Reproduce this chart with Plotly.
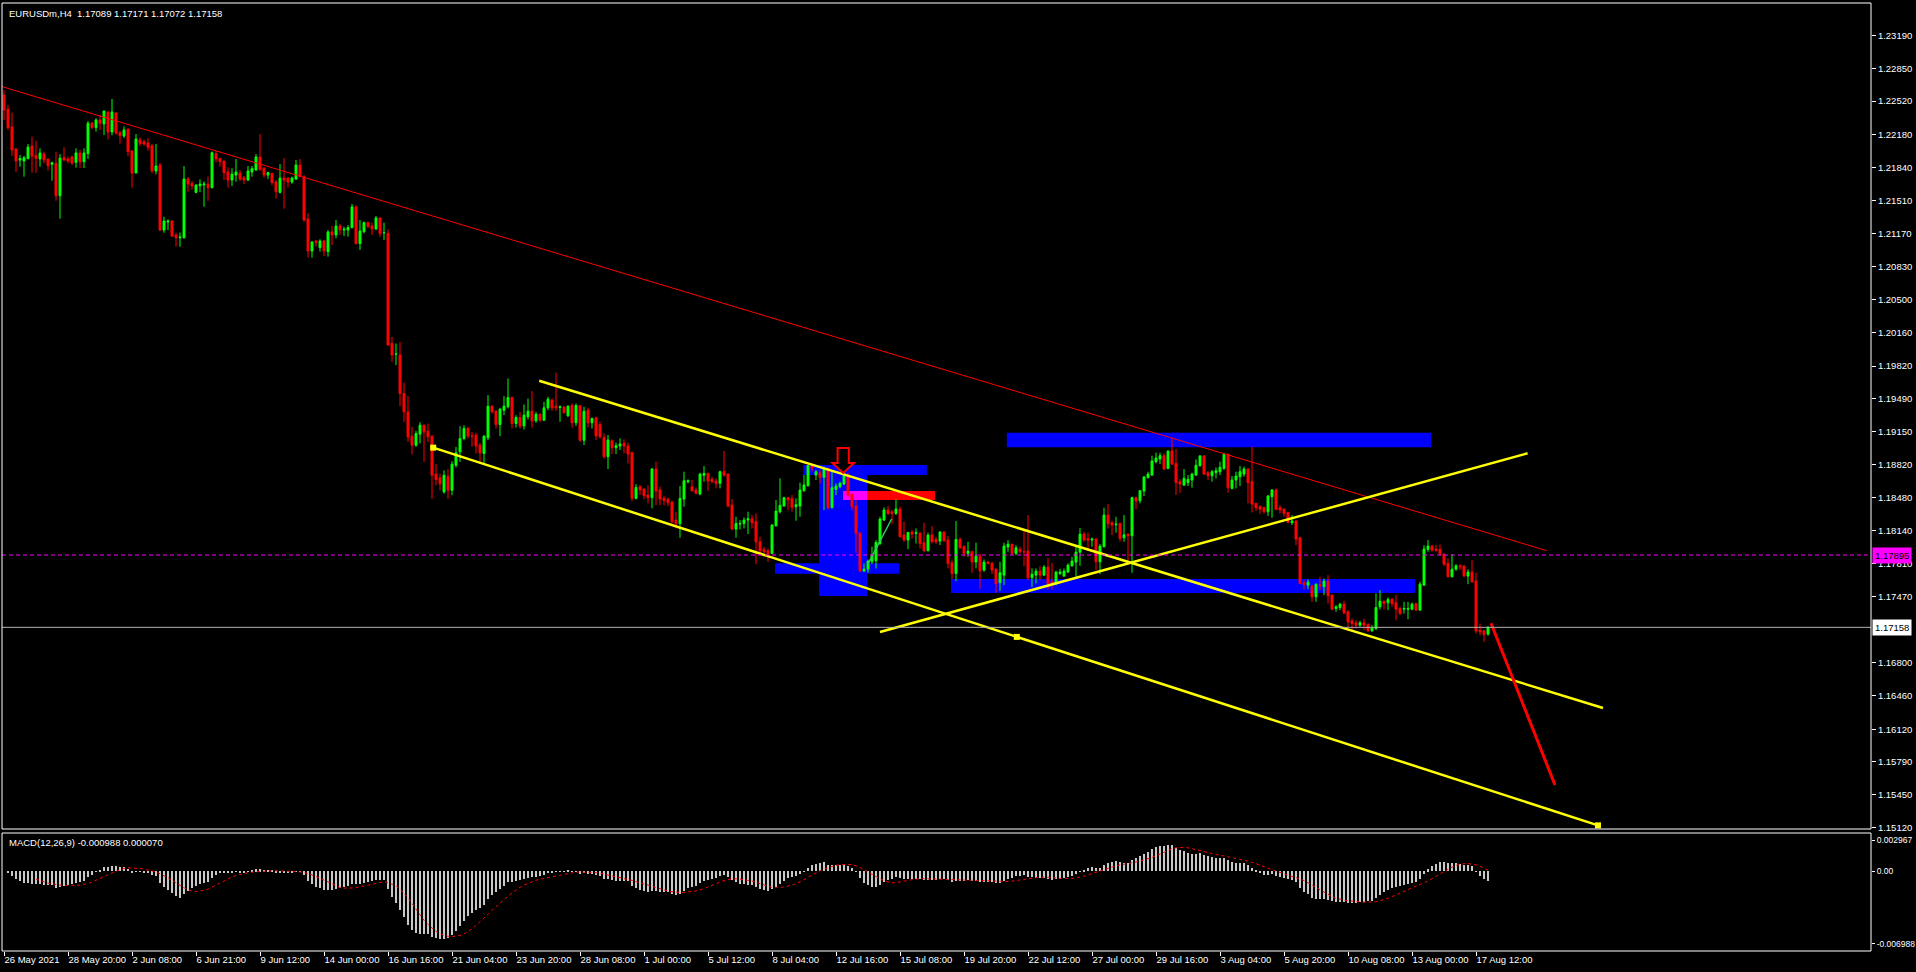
import plotly.graph_objects as go
import pandas as pd

# ---------------- price data (EURUSDm, H4) ----------------
opens = [
1.22583, 1.22437, 1.22257, 1.22032, 1.21920, 1.21910, 1.21934, 1.22063, 1.21968, 1.21930, 1.21981, 1.21930,
1.21876, 1.21886, 1.21556, 1.21944, 1.21930, 1.21951, 1.21896, 1.21992, 1.21903, 1.21985, 1.22297, 1.22250,
1.22328, 1.22287, 1.22410, 1.22206, 1.22399, 1.22199, 1.22165, 1.22236, 1.22012, 1.21787, 1.22124, 1.22107,
1.22093, 1.22066, 1.21808, 1.21869, 1.21206, 1.21288, 1.21298, 1.21155, 1.21128, 1.21128, 1.21726, 1.21682,
1.21590, 1.21658, 1.21665, 1.21675, 1.21638, 1.21985, 1.21937, 1.21910, 1.21798, 1.21716, 1.21767, 1.21787,
1.21740, 1.21716, 1.21798, 1.21818, 1.21951, 1.21838, 1.21767, 1.21784, 1.21696, 1.21590, 1.21736, 1.21736,
1.21696, 1.21726, 1.21869, 1.21748, 1.21319, 1.20993, 1.21095, 1.21027, 1.21095, 1.20986, 1.21187, 1.21156,
1.21248, 1.21207, 1.21207, 1.21231, 1.21442, 1.21068, 1.21190, 1.21282, 1.21248, 1.21217, 1.21329, 1.21180,
1.21173, 1.20051, 1.19942, 1.19932, 1.19541, 1.19354, 1.19106, 1.19014, 1.19126, 1.19218, 1.19157, 1.19106,
1.18718, 1.18681, 1.18538, 1.18698, 1.18555, 1.18810, 1.18946, 1.19082, 1.19184, 1.19106, 1.19116, 1.19014,
1.18929, 1.19089, 1.19412, 1.19361, 1.19225, 1.19371, 1.19405, 1.19500, 1.19235, 1.19296, 1.19211, 1.19303,
1.19361, 1.19262, 1.19330, 1.19269, 1.19395, 1.19473, 1.19412, 1.19398, 1.19402, 1.19313, 1.19419, 1.19242,
1.19419, 1.19065, 1.19371, 1.19242, 1.19293, 1.19225, 1.19094, 1.18897, 1.19057, 1.18989, 1.19006, 1.19033,
1.19006, 1.18938, 1.18472, 1.18591, 1.18567, 1.18506, 1.18479, 1.18771, 1.18557, 1.18472, 1.18462, 1.18435,
1.18251, 1.18214, 1.18465, 1.18642, 1.18591, 1.18557, 1.18516, 1.18707, 1.18727, 1.18666, 1.18649, 1.18625,
1.18744, 1.18720, 1.18404, 1.18159, 1.18210, 1.18217, 1.18251, 1.18264, 1.18234, 1.18030, 1.17952, 1.17938,
1.17911, 1.18193, 1.18336, 1.18394, 1.18479, 1.18469, 1.18387, 1.18394, 1.18550, 1.18601, 1.18805, 1.18710,
1.18734, 1.18686, 1.18768, 1.18377, 1.18564, 1.18591, 1.18618, 1.18700, 1.18513, 1.18394, 1.18115, 1.17731,
1.17751, 1.17826, 1.17836, 1.18013, 1.18251, 1.18353, 1.18336, 1.18319, 1.18363, 1.18098, 1.18047, 1.18129,
1.18115, 1.18115, 1.18020, 1.17938, 1.18098, 1.18054, 1.18037, 1.18129, 1.18047, 1.17816, 1.17707, 1.18054,
1.17979, 1.17911, 1.17928, 1.17823, 1.17884, 1.17741, 1.17823, 1.17809, 1.17751, 1.17612, 1.17690, 1.17976,
1.18003, 1.17911, 1.17955, 1.17928, 1.17935, 1.17663, 1.17690, 1.17731, 1.17690, 1.17772, 1.17622, 1.17605,
1.17707, 1.17680, 1.17721, 1.17785, 1.17823, 1.17924, 1.18108, 1.18061, 1.18047, 1.18057, 1.17826, 1.17979,
1.18302, 1.18224, 1.18204, 1.18217, 1.18071, 1.18108, 1.18091, 1.18479, 1.18448, 1.18547, 1.18683, 1.18710,
1.18846, 1.18873, 1.18907, 1.18778, 1.18955, 1.18829, 1.18642, 1.18608, 1.18632, 1.18659, 1.18710, 1.18805,
1.18904, 1.18734, 1.18703, 1.18734, 1.18744, 1.18778, 1.18921, 1.18574, 1.18659, 1.18693, 1.18720, 1.18771,
1.18642, 1.18421, 1.18387, 1.18380, 1.18336, 1.18489, 1.18557, 1.18377, 1.18363, 1.18329, 1.18224, 1.18241,
1.18071, 1.17612, 1.17588, 1.17581, 1.17469, 1.17591, 1.17571, 1.17629, 1.17486, 1.17350, 1.17360, 1.17394,
1.17316, 1.17224, 1.17204, 1.17180, 1.17204, 1.17190, 1.17122, 1.17146, 1.17367, 1.17425, 1.17408, 1.17445,
1.17408, 1.17350, 1.17343, 1.17343, 1.17343, 1.17401, 1.17333, 1.17588, 1.17952, 1.17986, 1.17955, 1.17952,
1.17904, 1.17809, 1.17673, 1.17751, 1.17785, 1.17782, 1.17680, 1.17721, 1.17629, 1.17129, 1.17122, 1.17089,
]
highs = [
1.22634, 1.22481, 1.22403, 1.22039, 1.21971, 1.21961, 1.22083, 1.22158, 1.22114, 1.22039, 1.22005, 1.21930,
1.21903, 1.22005, 1.21981, 1.22049, 1.21954, 1.21968, 1.22039, 1.22022, 1.22039, 1.22318, 1.22308, 1.22345,
1.22382, 1.22420, 1.22410, 1.22542, 1.22410, 1.22216, 1.22263, 1.22236, 1.22022, 1.22185, 1.22151, 1.22127,
1.22144, 1.22083, 1.22083, 1.21889, 1.21342, 1.21315, 1.21308, 1.21179, 1.21182, 1.21859, 1.21747, 1.21706,
1.21672, 1.21723, 1.21702, 1.21753, 1.22008, 1.22012, 1.21937, 1.21910, 1.21845, 1.21835, 1.21930, 1.21818,
1.21757, 1.21859, 1.21859, 1.21981, 1.22185, 1.21845, 1.21801, 1.21791, 1.21716, 1.21879, 1.21940, 1.21743,
1.21750, 1.21920, 1.21930, 1.21768, 1.21377, 1.21095, 1.21105, 1.21112, 1.21105, 1.21207, 1.21248, 1.21309,
1.21268, 1.21241, 1.21258, 1.21472, 1.21459, 1.21309, 1.21292, 1.21292, 1.21282, 1.21350, 1.21336, 1.21282,
1.21214, 1.20119, 1.20051, 1.20065, 1.19650, 1.19514, 1.19201, 1.19160, 1.19249, 1.19225, 1.19235, 1.19116,
1.18820, 1.18725, 1.18759, 1.18773, 1.18851, 1.18997, 1.19208, 1.19218, 1.19201, 1.19150, 1.19140, 1.19038,
1.19116, 1.19524, 1.19422, 1.19371, 1.19395, 1.19514, 1.19694, 1.19507, 1.19320, 1.19354, 1.19429, 1.19490,
1.19565, 1.19354, 1.19337, 1.19456, 1.19507, 1.19490, 1.19752, 1.19419, 1.19412, 1.19419, 1.19439, 1.19439,
1.19422, 1.19405, 1.19395, 1.19296, 1.19303, 1.19252, 1.19135, 1.19118, 1.19074, 1.19040, 1.19084, 1.19074,
1.19040, 1.18948, 1.18618, 1.18608, 1.18574, 1.18608, 1.18781, 1.18846, 1.18591, 1.18499, 1.18482, 1.18448,
1.18336, 1.18598, 1.18744, 1.18666, 1.18659, 1.18584, 1.18734, 1.18802, 1.18734, 1.18693, 1.18676, 1.18754,
1.18955, 1.18727, 1.18465, 1.18285, 1.18251, 1.18278, 1.18336, 1.18302, 1.18319, 1.18081, 1.17979, 1.17962,
1.18210, 1.18455, 1.18676, 1.18489, 1.18489, 1.18506, 1.18472, 1.18632, 1.18710, 1.18812, 1.18812, 1.18761,
1.18761, 1.18795, 1.18785, 1.18744, 1.18625, 1.18642, 1.18727, 1.18734, 1.18523, 1.18455, 1.18132, 1.17809,
1.17850, 1.17979, 1.18047, 1.18285, 1.18380, 1.18394, 1.18353, 1.18462, 1.18387, 1.18234, 1.18132, 1.18149,
1.18166, 1.18132, 1.18224, 1.18122, 1.18190, 1.18081, 1.18139, 1.18135, 1.18088, 1.17850, 1.18241, 1.18074,
1.17996, 1.18030, 1.17938, 1.18020, 1.17904, 1.17850, 1.17836, 1.17826, 1.17758, 1.17826, 1.18020, 1.18047,
1.18013, 1.17996, 1.17979, 1.18139, 1.18302, 1.17758, 1.17758, 1.17782, 1.17792, 1.17863, 1.17816, 1.17734,
1.17755, 1.17758, 1.17809, 1.17877, 1.17989, 1.18169, 1.18132, 1.18122, 1.18074, 1.18071, 1.18006, 1.18377,
1.18414, 1.18244, 1.18285, 1.18224, 1.18302, 1.18115, 1.18489, 1.18489, 1.18557, 1.18700, 1.18744, 1.18907,
1.18938, 1.18938, 1.18931, 1.18958, 1.19091, 1.18975, 1.18669, 1.18771, 1.18710, 1.18734, 1.18870, 1.18914,
1.18914, 1.18751, 1.18761, 1.18788, 1.18846, 1.18938, 1.18931, 1.18700, 1.18744, 1.18802, 1.18795, 1.18778,
1.18999, 1.18428, 1.18404, 1.18387, 1.18506, 1.18567, 1.18574, 1.18404, 1.18370, 1.18336, 1.18302, 1.18251,
1.18081, 1.17639, 1.17646, 1.17588, 1.17605, 1.17673, 1.17656, 1.17690, 1.17493, 1.17384, 1.17408, 1.17428,
1.17333, 1.17248, 1.17231, 1.17224, 1.17248, 1.17197, 1.17180, 1.17503, 1.17537, 1.17428, 1.17462, 1.17452,
1.17486, 1.17367, 1.17418, 1.17418, 1.17411, 1.17408, 1.17622, 1.17996, 1.18047, 1.17996, 1.17996, 1.18003,
1.17911, 1.17860, 1.17904, 1.17802, 1.17802, 1.17792, 1.17748, 1.17843, 1.17714, 1.17197, 1.17129, 1.17171,
]
lows = [
1.22328, 1.22226, 1.21961, 1.21801, 1.21852, 1.21750, 1.21927, 1.21791, 1.21791, 1.21852, 1.21886, 1.21811,
1.21709, 1.21505, 1.21322, 1.21913, 1.21886, 1.21869, 1.21842, 1.21838, 1.21838, 1.21930, 1.22236, 1.22209,
1.22226, 1.22175, 1.22131, 1.22172, 1.22178, 1.22087, 1.22144, 1.21961, 1.21638, 1.21787, 1.22063, 1.22066,
1.22015, 1.21784, 1.21774, 1.21196, 1.21179, 1.21206, 1.21138, 1.21036, 1.21036, 1.21118, 1.21597, 1.21614,
1.21580, 1.21594, 1.21444, 1.21505, 1.21631, 1.21896, 1.21852, 1.21716, 1.21638, 1.21655, 1.21699, 1.21706,
1.21675, 1.21706, 1.21750, 1.21811, 1.21811, 1.21740, 1.21726, 1.21662, 1.21526, 1.21580, 1.21424, 1.21641,
1.21679, 1.21716, 1.21750, 1.21292, 1.20925, 1.20925, 1.21037, 1.20986, 1.20942, 1.20935, 1.21054, 1.21122,
1.21156, 1.21146, 1.21139, 1.21224, 1.21061, 1.21003, 1.21173, 1.21231, 1.21156, 1.21207, 1.21139, 1.21105,
1.20034, 1.19864, 1.19830, 1.19412, 1.19252, 1.19048, 1.18919, 1.18997, 1.19031, 1.18844, 1.19048, 1.18467,
1.18606, 1.18555, 1.18521, 1.18467, 1.18504, 1.18786, 1.18844, 1.19065, 1.19082, 1.18997, 1.18929, 1.18844,
1.18820, 1.19065, 1.19337, 1.19184, 1.19106, 1.19320, 1.19388, 1.19184, 1.19194, 1.19184, 1.19174, 1.19276,
1.19194, 1.19242, 1.19252, 1.19262, 1.19371, 1.19364, 1.19364, 1.19252, 1.19337, 1.19303, 1.19191, 1.19211,
1.19048, 1.19014, 1.19194, 1.19184, 1.19065, 1.19082, 1.18880, 1.18771, 1.18924, 1.18924, 1.18965, 1.18931,
1.18829, 1.18445, 1.18462, 1.18506, 1.18462, 1.18421, 1.18370, 1.18404, 1.18404, 1.18401, 1.18394, 1.18217,
1.18166, 1.18071, 1.18387, 1.18625, 1.18540, 1.18516, 1.18503, 1.18642, 1.18550, 1.18625, 1.18574, 1.18574,
1.18693, 1.18380, 1.18149, 1.18071, 1.18156, 1.18166, 1.18108, 1.18166, 1.17802, 1.17911, 1.17877, 1.17826,
1.17904, 1.18183, 1.18319, 1.18387, 1.18353, 1.18336, 1.18244, 1.18285, 1.18540, 1.18591, 1.18744, 1.18659,
1.18625, 1.18353, 1.18360, 1.18370, 1.18506, 1.18574, 1.18608, 1.18489, 1.18353, 1.17918, 1.17724, 1.17724,
1.17714, 1.17802, 1.17758, 1.17996, 1.18244, 1.18302, 1.18210, 1.18302, 1.18074, 1.18030, 1.17955, 1.18064,
1.18013, 1.17962, 1.17928, 1.17935, 1.18013, 1.18006, 1.17996, 1.18030, 1.17758, 1.17649, 1.17629, 1.17955,
1.17877, 1.17877, 1.17714, 1.17758, 1.17551, 1.17724, 1.17799, 1.17700, 1.17510, 1.17530, 1.17588, 1.17928,
1.17894, 1.17894, 1.17911, 1.17782, 1.17639, 1.17571, 1.17605, 1.17639, 1.17683, 1.17544, 1.17544, 1.17588,
1.17690, 1.17673, 1.17714, 1.17775, 1.17673, 1.17785, 1.18030, 1.17952, 1.17979, 1.17741, 1.17700, 1.17972,
1.18166, 1.18098, 1.18122, 1.18030, 1.18030, 1.17809, 1.17714, 1.18363, 1.18421, 1.18496, 1.18676, 1.18700,
1.18829, 1.18822, 1.18761, 1.18768, 1.18812, 1.18506, 1.18530, 1.18598, 1.18598, 1.18581, 1.18700, 1.18795,
1.18710, 1.18659, 1.18642, 1.18676, 1.18710, 1.18761, 1.18530, 1.18564, 1.18574, 1.18598, 1.18693, 1.18421,
1.18329, 1.18343, 1.18312, 1.18319, 1.18292, 1.18275, 1.18353, 1.18319, 1.18285, 1.18217, 1.18200, 1.17996,
1.17598, 1.17544, 1.17547, 1.17418, 1.17418, 1.17537, 1.17486, 1.17401, 1.17333, 1.17316, 1.17333, 1.17292,
1.17156, 1.17129, 1.17146, 1.17163, 1.17129, 1.17112, 1.17112, 1.17129, 1.17340, 1.17340, 1.17333, 1.17367,
1.17231, 1.17282, 1.17299, 1.17241, 1.17333, 1.17326, 1.17333, 1.17581, 1.17928, 1.17928, 1.17928, 1.17887,
1.17782, 1.17666, 1.17666, 1.17734, 1.17741, 1.17673, 1.17598, 1.17612, 1.17095, 1.17078, 1.17010, 1.17072,
]
closes = [
1.22430, 1.22250, 1.22022, 1.21910, 1.21934, 1.21944, 1.22053, 1.21961, 1.21934, 1.21992, 1.21920, 1.21862,
1.21893, 1.21556, 1.21940, 1.21920, 1.21910, 1.21889, 1.21992, 1.21900, 1.21992, 1.22294, 1.22250, 1.22328,
1.22294, 1.22420, 1.22206, 1.22410, 1.22195, 1.22168, 1.22226, 1.22005, 1.21787, 1.22134, 1.22090, 1.22083,
1.22049, 1.21808, 1.21859, 1.21206, 1.21298, 1.21298, 1.21145, 1.21128, 1.21135, 1.21726, 1.21675, 1.21655,
1.21665, 1.21675, 1.21675, 1.21638, 1.21995, 1.21930, 1.21903, 1.21791, 1.21716, 1.21777, 1.21798, 1.21726,
1.21716, 1.21808, 1.21832, 1.21951, 1.21825, 1.21767, 1.21791, 1.21689, 1.21597, 1.21736, 1.21716, 1.21696,
1.21736, 1.21869, 1.21750, 1.21309, 1.20993, 1.21085, 1.21078, 1.21095, 1.20993, 1.21187, 1.21156, 1.21248,
1.21207, 1.21214, 1.21231, 1.21442, 1.21068, 1.21197, 1.21282, 1.21241, 1.21217, 1.21329, 1.21173, 1.21180,
1.20034, 1.19932, 1.19942, 1.19541, 1.19354, 1.19099, 1.19014, 1.19133, 1.19218, 1.19150, 1.19099, 1.18708,
1.18664, 1.18620, 1.18708, 1.18555, 1.18820, 1.18936, 1.19082, 1.19184, 1.19106, 1.19106, 1.19007, 1.18936,
1.19106, 1.19412, 1.19354, 1.19225, 1.19381, 1.19412, 1.19500, 1.19235, 1.19296, 1.19208, 1.19320, 1.19361,
1.19262, 1.19330, 1.19269, 1.19395, 1.19483, 1.19395, 1.19395, 1.19405, 1.19344, 1.19412, 1.19242, 1.19419,
1.19065, 1.19361, 1.19242, 1.19286, 1.19109, 1.19099, 1.18897, 1.19067, 1.18989, 1.19009, 1.19026, 1.19006,
1.18924, 1.18472, 1.18584, 1.18557, 1.18499, 1.18479, 1.18771, 1.18547, 1.18465, 1.18452, 1.18428, 1.18234,
1.18214, 1.18472, 1.18652, 1.18652, 1.18550, 1.18523, 1.18720, 1.18727, 1.18649, 1.18645, 1.18625, 1.18744,
1.18710, 1.18394, 1.18159, 1.18217, 1.18217, 1.18251, 1.18264, 1.18224, 1.18030, 1.17938, 1.17928, 1.17911,
1.18200, 1.18343, 1.18401, 1.18479, 1.18455, 1.18380, 1.18407, 1.18557, 1.18608, 1.18805, 1.18778, 1.18744,
1.18686, 1.18768, 1.18377, 1.18581, 1.18598, 1.18625, 1.18700, 1.18506, 1.18387, 1.18115, 1.17731, 1.17751,
1.17833, 1.17894, 1.18023, 1.18261, 1.18353, 1.18319, 1.18319, 1.18363, 1.18081, 1.18047, 1.18125, 1.18108,
1.18122, 1.18013, 1.17938, 1.18098, 1.18030, 1.18030, 1.18129, 1.18040, 1.17809, 1.17707, 1.18054, 1.17969,
1.17911, 1.17935, 1.17823, 1.17884, 1.17734, 1.17823, 1.17809, 1.17741, 1.17602, 1.17714, 1.17986, 1.18006,
1.17911, 1.17969, 1.17928, 1.17928, 1.17663, 1.17700, 1.17731, 1.17690, 1.17772, 1.17602, 1.17602, 1.17721,
1.17721, 1.17731, 1.17792, 1.17833, 1.17924, 1.18108, 1.18047, 1.18047, 1.18057, 1.17826, 1.17986, 1.18302,
1.18214, 1.18200, 1.18210, 1.18064, 1.18101, 1.18091, 1.18479, 1.18445, 1.18550, 1.18690, 1.18720, 1.18853,
1.18883, 1.18907, 1.18771, 1.18955, 1.18822, 1.18632, 1.18618, 1.18676, 1.18666, 1.18720, 1.18809, 1.18904,
1.18720, 1.18703, 1.18744, 1.18754, 1.18788, 1.18921, 1.18581, 1.18659, 1.18700, 1.18744, 1.18771, 1.18632,
1.18414, 1.18377, 1.18363, 1.18336, 1.18496, 1.18557, 1.18360, 1.18353, 1.18319, 1.18227, 1.18241, 1.18057,
1.17605, 1.17595, 1.17619, 1.17469, 1.17598, 1.17578, 1.17629, 1.17479, 1.17343, 1.17367, 1.17394, 1.17306,
1.17214, 1.17197, 1.17180, 1.17204, 1.17180, 1.17122, 1.17153, 1.17360, 1.17425, 1.17401, 1.17442, 1.17401,
1.17343, 1.17299, 1.17350, 1.17350, 1.17394, 1.17333, 1.17598, 1.17955, 1.17986, 1.17945, 1.17945, 1.17904,
1.17802, 1.17673, 1.17751, 1.17785, 1.17775, 1.17680, 1.17721, 1.17622, 1.17122, 1.17112, 1.17085, 1.17158,
]

tick_labels = ["26 May 2021", "28 May 20:00", "2 Jun 08:00", "6 Jun 21:00", "9 Jun 12:00",
               "14 Jun 00:00", "16 Jun 16:00", "21 Jun 04:00", "23 Jun 20:00", "28 Jun 08:00",
               "1 Jul 00:00", "5 Jul 12:00", "8 Jul 04:00", "12 Jul 16:00", "15 Jul 08:00",
               "19 Jul 20:00", "22 Jul 12:00", "27 Jul 00:00", "29 Jul 16:00", "3 Aug 04:00",
               "5 Aug 20:00", "10 Aug 08:00", "13 Aug 00:00", "17 Aug 12:00"]
bars_per_label = 16

price_ticks = [1.23190, 1.22850, 1.22520, 1.22180, 1.21840, 1.21510, 1.21170, 1.20830,
               1.20500, 1.20160, 1.19820, 1.19490, 1.19150, 1.18820, 1.18480, 1.18140,
               1.17810, 1.17470, 1.16800, 1.16460, 1.16120, 1.15790, 1.15450, 1.15120]
macd_ticks = [0.002967, 0.0, -0.006988]
macd_tick_text = ["0.002967", "0.00", "-0.006988"]

bid_price = 1.17158
level_price = 1.17895
header = "EURUSDm,H4\u00a0\u00a01.17089 1.17171 1.17072 1.17158"

# drawing objects (bar index, price)
red_trend_x, red_trend_y = [-0.5, 385.7], [1.22668, 1.17939]
chan_upper_x, chan_upper_y = [133.8, 399.75], [1.19671, 1.16336]
chan_lower_x, chan_lower_y = [107.3, 398.5], [1.18989, 1.15140]
chan_lower_mid_bar = 253.2
rising_x, rising_y = [219.0, 380.9], [1.17111, 1.18932]
green_short_x, green_short_y = [216.1, 221.9], [1.17811, 1.18262]
forecast_x, forecast_y = [371.75, 387.75], [1.17199, 1.15552]

blue_x0 = [199.8, 203.75, 192.75, 250.7, 236.75]
blue_x1 = [230.7, 215.75, 223.75, 356.75, 352.75]
blue_y0 = [1.18710, 1.17477, 1.17705, 1.18993, 1.17508]
blue_y1 = [1.18812, 1.18721, 1.17811, 1.19142, 1.17651]
red_rect = [209.8, 232.75, 1.18456, 1.18547]
arrow_bar, arrow_top, arrow_head, arrow_tip = 209.8, 1.18986, 1.18833, 1.18732

# ---------------- derived ----------------
n = len(closes)
bars = list(range(n))
highs = [max(h, o, c) for h, o, c in zip(highs, opens, closes)]
lows = [min(l, o, c) for l, o, c in zip(lows, opens, closes)]
tick_bars = [bars_per_label * k for k in range(len(tick_labels))]

s = pd.Series(closes)
macd_main = s.ewm(span=12, adjust=False).mean() - s.ewm(span=26, adjust=False).mean()
macd_signal = macd_main.rolling(9).mean()

FONT = "Liberation Sans"
WHITE = "#FFFFFF"

fig = go.Figure()

fig.add_trace(go.Candlestick(
    x=bars, open=opens, high=highs, low=lows, close=closes,
    increasing=dict(line=dict(color="#00FF00", width=1), fillcolor="#00FF00"),
    decreasing=dict(line=dict(color="#FF0000", width=1), fillcolor="#FF0000"),
    whiskerwidth=0, xaxis="x", yaxis="y", name="EURUSDm"))

def add_line(xs, ys, color, width, dash="solid"):
    fig.add_trace(go.Scatter(x=xs, y=ys, mode="lines", xaxis="x", yaxis="y",
                             line=dict(color=color, width=width, dash=dash),
                             hoverinfo="skip", cliponaxis=True))

add_line(red_trend_x, red_trend_y, "#FF0000", 1)
add_line(chan_upper_x, chan_upper_y, "#FFFF00", 2.5)
add_line(chan_lower_x, chan_lower_y, "#FFFF00", 2.5)
add_line(rising_x, rising_y, "#FFFF00", 2.5)
add_line(green_short_x, green_short_y, "#33CC66", 1.5)
add_line(forecast_x, forecast_y, "#FF0000", 3)

mid_y = chan_lower_y[0] + (chan_lower_y[1] - chan_lower_y[0]) * (chan_lower_mid_bar - chan_lower_x[0]) / (chan_lower_x[1] - chan_lower_x[0])
fig.add_trace(go.Scatter(x=[chan_lower_x[0], chan_lower_mid_bar, chan_lower_x[1]],
                         y=[chan_lower_y[0], mid_y, chan_lower_y[1]], mode="markers",
                         marker=dict(symbol="square", size=6, color="#FFFF00",
                                     line=dict(color="#FFFFFF", width=0)),
                         xaxis="x", yaxis="y", hoverinfo="skip"))

# MACD
fig.add_trace(go.Bar(x=bars, y=macd_main, width=0.3, xaxis="x", yaxis="y2",
                     marker=dict(color="#C8C8C8", line=dict(width=0)), name="MACD"))
fig.add_trace(go.Scatter(x=bars, y=macd_signal, mode="lines", xaxis="x", yaxis="y2",
                         line=dict(color="#FF0000", width=1, dash="dot"), name="Signal"))

shapes = []
for x0, x1, y0, y1 in zip(blue_x0, blue_x1, blue_y0, blue_y1):
    shapes.append(dict(type="rect", xref="x", yref="y", x0=x0, x1=x1, y0=y0, y1=y1,
                       fillcolor="#0000FF", line=dict(width=0), layer="below"))
shapes.append(dict(type="rect", xref="x", yref="y", x0=red_rect[0], x1=red_rect[1],
                   y0=red_rect[2], y1=red_rect[3], fillcolor="#FF0000", line=dict(width=0), layer="below"))
# red/blue overlap shows magenta
ox0, ox1 = max(red_rect[0], blue_x0[1]), min(red_rect[1], blue_x1[1])
oy0, oy1 = max(red_rect[2], blue_y0[1]), min(red_rect[3], blue_y1[1])
shapes.append(dict(type="rect", xref="x", yref="y", x0=ox0, x1=ox1, y0=oy0, y1=oy1,
                   fillcolor="#FF00FF", line=dict(width=0), layer="below"))
# horizontal level lines
shapes.append(dict(type="line", xref="paper", yref="y", x0=0, x1=1, y0=level_price, y1=level_price,
                   line=dict(color="#FF00FF", width=1, dash="4px,3px"), layer="above"))
shapes.append(dict(type="line", xref="paper", yref="y", x0=0, x1=1, y0=bid_price, y1=bid_price,
                   line=dict(color="#B4B4B4", width=1), layer="above"))
# arrow object
a = arrow_bar
path = (f"M {a-1.4},{arrow_top} L {a+1.4},{arrow_top} L {a+1.4},{arrow_head} "
        f"L {a+2.7},{arrow_head} L {a},{arrow_tip} L {a-2.7},{arrow_head} L {a-1.4},{arrow_head} Z")
shapes.append(dict(type="path", xref="x", yref="y", path=path, fillcolor="#000000",
                   line=dict(color="#FF0000", width=2), layer="above"))
# panel frames
shapes.append(dict(type="rect", xref="x domain", yref="y domain", x0=0, x1=1, y0=0, y1=1,
                   line=dict(color=WHITE, width=1), fillcolor="rgba(0,0,0,0)", layer="above"))
shapes.append(dict(type="rect", xref="x domain", yref="y2 domain", x0=0, x1=1, y0=0, y1=1,
                   line=dict(color=WHITE, width=1), fillcolor="rgba(0,0,0,0)", layer="above"))

annotations = [
    dict(xref="paper", yref="paper", x=0, y=1, xanchor="left", yanchor="top", xshift=5, yshift=-3,
         text=header, showarrow=False, font=dict(family=FONT, size=9.5, color=WHITE)),
    dict(xref="paper", yref="y2 domain", x=0, y=1, xanchor="left", yanchor="top", xshift=5, yshift=-2,
         text="MACD(12,26,9) -0.000988 0.000070", showarrow=False,
         font=dict(family=FONT, size=9.5, color=WHITE)),
    dict(xref="paper", yref="y", x=1, y=level_price, xanchor="left", yanchor="middle", xshift=1,
         text="1.17895", showarrow=False, bgcolor="#FF00FF", borderpad=2,
         font=dict(family=FONT, size=9.5, color="#000000")),
    dict(xref="paper", yref="y", x=1, y=bid_price, xanchor="left", yanchor="middle", xshift=1,
         text="1.17158", showarrow=False, bgcolor="#FFFFFF", borderpad=2,
         font=dict(family=FONT, size=9.5, color="#000000")),
]

W, H = 1916, 972
ml, mr, mt, mb = 2, 45, 3, 21
plot_h = H - mt - mb
main_bottom_px, macd_top_px = 829, 833
main_dom = [(H - mb - main_bottom_px) / plot_h, 1]
macd_dom = [0, (H - mb - macd_top_px) / plot_h]

fig.update_layout(
    width=W, height=H, autosize=False,
    margin=dict(l=ml, r=mr, t=mt, b=mb, pad=0),
    paper_bgcolor="#000000", plot_bgcolor="#000000",
    font=dict(family=FONT, size=9.5, color=WHITE),
    showlegend=False, bargap=0, hovermode=False,
    shapes=shapes, annotations=annotations,
    xaxis=dict(domain=[0, 1], anchor="y2", range=[-0.5, 466.75], showgrid=False, zeroline=False,
               tickmode="array", tickvals=tick_bars, ticktext=tick_labels, tickangle=0,
               ticks="outside", ticklen=4, tickcolor=WHITE, tickwidth=1, automargin=False,
               ticklabelposition="outside right", tickfont=dict(family=FONT, size=9.5, color=WHITE),
               showline=False, rangeslider=dict(visible=False), fixedrange=True),
    yaxis=dict(domain=main_dom, anchor="x", side="right", range=[1.15103, 1.23520],
               showgrid=False, zeroline=False, tickmode="array", tickvals=price_ticks,
               ticktext=[f"{v:.5f}" for v in price_ticks], ticks="outside", ticklen=4, automargin=False,
               tickcolor=WHITE, tickfont=dict(family=FONT, size=9.5, color=WHITE), fixedrange=True),
    yaxis2=dict(domain=macd_dom, anchor="x", side="right", range=[-0.00766, 0.00364],
                showgrid=False, zeroline=False, tickmode="array", tickvals=macd_ticks, automargin=False,
                ticktext=macd_tick_text, ticks="outside", ticklen=3, tickcolor=WHITE,
                tickfont=dict(family=FONT, size=8.5, color=WHITE), fixedrange=True),
)

fig.write_html("out.html", config={"displayModeBar": False},
               post_script="document.body.style.margin='0';document.body.style.overflow='hidden';")
